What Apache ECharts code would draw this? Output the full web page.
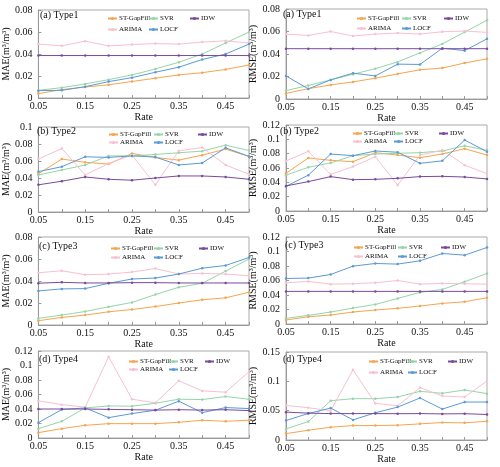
<!DOCTYPE html>
<html>
<head>
<meta charset="utf-8">
<script src="https://cdn.jsdelivr.net/npm/echarts@6/dist/echarts.min.js"></script>
<style>
    html, body { margin: 0; padding: 0; background: #fff; }
    #main { width: 500px; height: 467px; }
</style>
</head>
<body>
<div id="main"></div>
<script>
    'use strict';
    var rates = ['0.05', '0.10', '0.15', '0.20', '0.25', '0.30', '0.35', '0.40', '0.45', '0.50'];
    var names = ['ST-GapFill', 'SVR', 'IDW', 'ARIMA', 'LOCF'];
    var colors = ['#f6a550', '#97d4aa', '#7a4a9c', '#f7c1d0', '#5b9bd5'];

    // (a) Type1
    var mae1_st = [0.004, 0.0076, 0.010, 0.012, 0.015, 0.018, 0.021, 0.023, 0.026, 0.030];
    var mae1_svr = [0.007, 0.0094, 0.0128, 0.0167, 0.021, 0.0264, 0.0325, 0.040, 0.050, 0.060];
    var mae1_idw = [0.0386, 0.0386, 0.0386, 0.0386, 0.0386, 0.0386, 0.0386, 0.0386, 0.0386, 0.0386];
    var mae1_arima = [0.049, 0.0474, 0.0517, 0.0474, 0.0486, 0.0495, 0.049, 0.0508, 0.052, 0.050];
    var mae1_locf = [0.0067, 0.007, 0.0103, 0.0149, 0.0185, 0.0234, 0.028, 0.035, 0.040, 0.049];
    var rmse1_st = [0.005, 0.0092, 0.0125, 0.0152, 0.0185, 0.0223, 0.026, 0.0275, 0.032, 0.0357];
    var rmse1_svr = [0.0075, 0.012, 0.017, 0.022, 0.027, 0.033, 0.041, 0.049, 0.0595, 0.070];
    var rmse1_idw = [0.0447, 0.0447, 0.0447, 0.0447, 0.0447, 0.0447, 0.0447, 0.0447, 0.0447, 0.0447];
    var rmse1_arima = [0.0577, 0.0565, 0.060, 0.056, 0.0577, 0.0586, 0.0577, 0.0598, 0.0604, 0.0592];
    var rmse1_locf = [0.0205, 0.009, 0.017, 0.023, 0.0205, 0.031, 0.0307, 0.0452, 0.043, 0.0535];

    // (b) Type2
    var mae2_st = [0.045, 0.0623, 0.0584, 0.0564, 0.0689, 0.0642, 0.061, 0.0669, 0.074, 0.0654];
    var mae2_svr = [0.0436, 0.0494, 0.0553, 0.066, 0.066, 0.0677, 0.0697, 0.0716, 0.0786, 0.0724];
    var mae2_idw = [0.032, 0.0362, 0.0412, 0.0385, 0.0374, 0.040, 0.0424, 0.0424, 0.0412, 0.0385];
    var mae2_arima = [0.0623, 0.0747, 0.0436, 0.0572, 0.0669, 0.032, 0.072, 0.0759, 0.0553, 0.0444];
    var mae2_locf = [0.0475, 0.0533, 0.065, 0.0642, 0.066, 0.0646, 0.0553, 0.0576, 0.0755, 0.0654];
    var rmse2_st = [0.0526, 0.074, 0.0707, 0.0688, 0.0814, 0.078, 0.0744, 0.0795, 0.087, 0.078];
    var rmse2_svr = [0.050, 0.061, 0.067, 0.0772, 0.0795, 0.0805, 0.0814, 0.0837, 0.091, 0.0847];
    var rmse2_idw = [0.035, 0.041, 0.048, 0.0437, 0.0442, 0.0456, 0.048, 0.0484, 0.0474, 0.0447];
    var rmse2_arima = [0.0698, 0.0833, 0.051, 0.062, 0.0758, 0.0363, 0.078, 0.085, 0.064, 0.052];
    var rmse2_locf = [0.0344, 0.050, 0.0795, 0.0772, 0.0837, 0.082, 0.0665, 0.070, 0.099, 0.0828];

    // (c) Type3
    var mae3_st = [0.0039, 0.0069, 0.009, 0.012, 0.0141, 0.0168, 0.020, 0.0229, 0.0247, 0.0298];
    var mae3_svr = [0.006, 0.009, 0.0123, 0.0165, 0.0205, 0.0277, 0.0343, 0.0379, 0.049, 0.060];
    var mae3_idw = [0.038, 0.0388, 0.0382, 0.0382, 0.0385, 0.0385, 0.0382, 0.0382, 0.0382, 0.0382];
    var mae3_arima = [0.0475, 0.0493, 0.0457, 0.0463, 0.0481, 0.0514, 0.0463, 0.0469, 0.0463, 0.0448];
    var mae3_locf = [0.031, 0.0328, 0.0331, 0.0379, 0.0418, 0.0427, 0.0463, 0.0517, 0.0541, 0.0614];
    var rmse3_st = [0.0055, 0.010, 0.0124, 0.0165, 0.0193, 0.0216, 0.0248, 0.0284, 0.0307, 0.0362];
    var rmse3_svr = [0.0078, 0.0119, 0.0165, 0.022, 0.027, 0.0353, 0.0436, 0.0477, 0.0583, 0.0697];
    var rmse3_idw = [0.045, 0.045, 0.045, 0.045, 0.045, 0.045, 0.045, 0.045, 0.045, 0.045];
    var rmse3_arima = [0.0569, 0.0587, 0.055, 0.0555, 0.0569, 0.060, 0.055, 0.056, 0.0555, 0.055];
    var rmse3_locf = [0.0628, 0.0633, 0.0683, 0.0798, 0.0835, 0.0826, 0.0872, 0.0972, 0.095, 0.1055];

    // (d) Type4
    var mae4_st = [0.0074, 0.0129, 0.0175, 0.0198, 0.0198, 0.0198, 0.0217, 0.0245, 0.023, 0.0245];
    var mae4_svr = [0.0129, 0.023, 0.0415, 0.0443, 0.0438, 0.048, 0.0535, 0.053, 0.0572, 0.0535];
    var mae4_idw = [0.040, 0.040, 0.040, 0.0395, 0.039, 0.0385, 0.039, 0.0385, 0.039, 0.0378];
    var mae4_arima = [0.0512, 0.046, 0.0425, 0.112, 0.0535, 0.0485, 0.079, 0.065, 0.0632, 0.0914];
    var mae4_locf = [0.0212, 0.0392, 0.0415, 0.0281, 0.0337, 0.0383, 0.0508, 0.035, 0.042, 0.0406];
    var rmse4_st = [0.0109, 0.0166, 0.0218, 0.0246, 0.0246, 0.0252, 0.0275, 0.0298, 0.0292, 0.032];
    var rmse4_svr = [0.0189, 0.0315, 0.067, 0.0704, 0.0704, 0.0733, 0.083, 0.0796, 0.0853, 0.079];
    var rmse4_idw = [0.0475, 0.0458, 0.045, 0.045, 0.045, 0.0448, 0.045, 0.0445, 0.0448, 0.0435];
    var rmse4_arima = [0.059, 0.055, 0.0498, 0.1196, 0.0624, 0.0584, 0.0893, 0.075, 0.0733, 0.1007];
    var rmse4_locf = [0.0332, 0.0452, 0.0544, 0.0343, 0.0464, 0.0561, 0.0716, 0.0527, 0.0647, 0.0647];

    var font = 'Liberation Serif, Times New Roman, serif';

    // one entry per panel: grid box, axis range, title spot, legend offsets
    var panels = [
        { title: '(a) Type1', yName: 'MAE(m³/m³)', left: 37, top: 10, width: 212, height: 88, max: 0.08, step: 0.02,
          tx: 40, ty: 10, lx: [70, 111, 152], ly: [5, 16], rateGap: 5,
          data: [mae1_st, mae1_svr, mae1_idw, mae1_arima, mae1_locf] },
        { title: '(a) Type1', yName: 'RMSE(m³/m³)', left: 286, top: 9, width: 201, height: 90, max: 0.08, step: 0.02,
          tx: 283, ty: 9, lx: [70, 115, 157], ly: [6, 16], rateGap: 13,
          data: [rmse1_st, rmse1_svr, rmse1_idw, rmse1_arima, rmse1_locf] },
        { title: '(b) Type2', yName: 'MAE(m³/m³)', left: 37, top: 127, width: 212, height: 85, max: 0.1, step: 0.02,
          tx: 37, ty: 126, lx: [71, 116, 160], ly: [4, 12], rateGap: 13,
          data: [mae2_st, mae2_svr, mae2_idw, mae2_arima, mae2_locf] },
        { title: '(b) Type2', yName: 'RMSE(m³/m³)', left: 286, top: 125, width: 201, height: 86, max: 0.12, step: 0.02,
          tx: 280, ty: 126, lx: [66, 107, 152], ly: [5, 13], rateGap: 12,
          data: [rmse2_st, rmse2_svr, rmse2_idw, rmse2_arima, rmse2_locf] },
        { title: '(c) Type3', yName: 'MAE(m³/m³)', left: 37, top: 237, width: 212, height: 88, max: 0.08, step: 0.02,
          tx: 39, ty: 241, lx: [73, 116, 161], ly: [8, 17], rateGap: 12,
          data: [mae3_st, mae3_svr, mae3_idw, mae3_arima, mae3_locf] },
        { title: '(c) Type3', yName: 'RMSE(m³/m³)', left: 286, top: 237, width: 201, height: 87, max: 0.12, step: 0.02,
          tx: 285, ty: 240, lx: [67, 111, 154], ly: [7, 16], rateGap: 12,
          data: [rmse3_st, rmse3_svr, rmse3_idw, rmse3_arima, rmse3_locf] },
        { title: '(d) Type4', yName: 'MAE(m³/m³)', left: 37, top: 351, width: 212, height: 87, max: 0.12, step: 0.02,
          tx: 39, ty: 354, lx: [91, 131, 167], ly: [7, 15], rateGap: 12,
          data: [mae4_st, mae4_svr, mae4_idw, mae4_arima, mae4_locf] },
        { title: '(d) Type4', yName: 'RMSE(m³/m³)', left: 286, top: 352, width: 201, height: 88, max: 0.15, step: 0.05,
          tx: 283, ty: 354, lx: [82, 121, 161], ly: [6, 17], rateGap: 12,
          data: [rmse4_st, rmse4_svr, rmse4_idw, rmse4_arima, rmse4_locf] }
    ];

    var option = {
        animation: false,
        backgroundColor: '#fff',
        textStyle: { fontFamily: font },
        title: [], grid: [], xAxis: [], yAxis: [], legend: [], series: []
    };

    // legend slots: ST-GapFill, SVR, IDW on row 1 ; ARIMA, LOCF on row 2
    var slotCol = [0, 1, 2, 0, 1];
    var slotRow = [0, 0, 0, 1, 1];

    for (var i = 0, len = panels.length; i < len; i++) {
        var p = panels[i];
        option.title.push({
            text: p.title, left: p.tx, top: p.ty, padding: 0,
            textStyle: { fontFamily: font, fontSize: 10, fontWeight: 'normal', color: '#111' }
        });
        option.grid.push({
            left: p.left, top: p.top, width: p.width, height: p.height,
            show: true, borderColor: '#aaa', borderWidth: 1, containLabel: false
        });
        option.xAxis.push({
            type: 'category', gridIndex: i, data: rates, boundaryGap: false,
            name: 'Rate', nameLocation: 'middle', nameGap: p.rateGap,
            nameTextStyle: { fontFamily: font, fontSize: 10, color: '#111' },
            axisLine: { lineStyle: { color: '#999' } },
            axisTick: { inside: true, length: 3, interval: 0, lineStyle: { color: '#999' } },
            axisLabel: { interval: 1, margin: 3, fontFamily: font, fontSize: 10, color: '#111' },
            splitLine: { show: false }
        });
        option.yAxis.push({
            type: 'value', gridIndex: i, min: 0, max: p.max, interval: p.step,
            name: p.yName, nameLocation: 'middle', nameGap: 22,
            nameTextStyle: { fontFamily: font, fontSize: 10, color: '#111' },
            axisLine: { show: true, lineStyle: { color: '#999' } },
            axisTick: { show: true, inside: true, length: 3, lineStyle: { color: '#999' } },
            axisLabel: { margin: 6, fontFamily: font, fontSize: 10, color: '#111' },
            splitLine: { show: false }
        });
        for (var k = 0; k < names.length; k++) {
            option.series.push({
                name: names[k], type: 'line', xAxisIndex: i, yAxisIndex: i,
                data: p.data[k], color: colors[k],
                symbol: 'circle', symbolSize: 2.5, showSymbol: true,
                lineStyle: { width: 1 }, z: k === 2 ? 3 : 2
            });
            option.legend.push({
                data: [names[k]], left: p.left + p.lx[slotCol[k]], top: p.top + p.ly[slotRow[k]],
                padding: 0, itemWidth: 9, itemHeight: 4, itemGap: 2,
                textStyle: { fontFamily: font, fontSize: 7, color: '#111', padding: [0, 0, 0, -3] }
            });
        }
    }

    var myChart = echarts.init(document.getElementById('main'));
    myChart.setOption(option);
</script>
</body>
</html>
